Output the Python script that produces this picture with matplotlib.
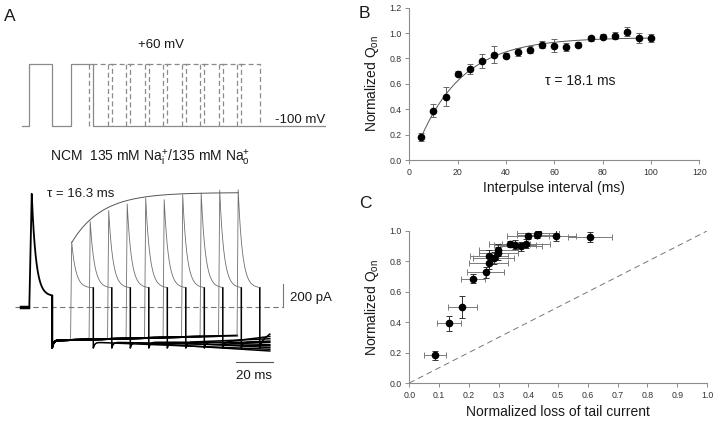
import numpy as np
import matplotlib.pyplot as plt

plt.rcParams['font.family'] = ['Liberation Sans', 'DejaVu Sans']
plt.rcParams['mathtext.fontset'] = 'custom'
plt.rcParams['mathtext.rm'] = 'Liberation Sans'
plt.rcParams['mathtext.it'] = 'Liberation Sans:italic'

# ---- panel B: recovery of Qon vs interpulse interval
interval_B = [5, 10, 15, 20, 25, 30, 35, 40, 45, 50,
              55, 60, 65, 70, 75, 80, 85, 90, 95, 100]
qon_B = [0.18, 0.39, 0.50, 0.68, 0.72, 0.78, 0.83, 0.82, 0.85, 0.87,
         0.91, 0.90, 0.89, 0.91, 0.96, 0.97, 0.98, 1.01, 0.96, 0.96]
qon_B_err = [0.03, 0.05, 0.075, 0.02, 0.04, 0.055, 0.065, 0.02, 0.03, 0.03,
             0.03, 0.05, 0.03, 0.02, 0.02, 0.02, 0.03, 0.035, 0.04, 0.03]
tau_B = 18.1
amp_B = 0.965
t0_B = 1.2

# ---- panel C: Qon vs loss of tail current
loss_C = [0.086, 0.133, 0.178, 0.213, 0.256, 0.267, 0.268, 0.283, 0.299, 0.299,
          0.337, 0.356, 0.375, 0.391, 0.398, 0.428, 0.433, 0.494, 0.607]
qon_C = [0.183, 0.393, 0.50, 0.686, 0.729, 0.788, 0.838, 0.825, 0.852, 0.873,
         0.915, 0.91, 0.90, 0.915, 0.969, 0.976, 0.987, 0.969, 0.96]
loss_C_err = [0.037, 0.039, 0.048, 0.04, 0.062, 0.065, 0.065, 0.07, 0.065, 0.065,
              0.07, 0.07, 0.07, 0.08, 0.07, 0.065, 0.07, 0.065, 0.075]
qon_C_err = [0.03, 0.05, 0.075, 0.03, 0.035, 0.04, 0.04, 0.04, 0.04, 0.04,
             0.02, 0.03, 0.03, 0.03, 0.02, 0.02, 0.02, 0.035, 0.035]

# ---- panel A: two-pulse protocol and currents (ms, mV, pA)
pulse_width = 12.3
intervals_A = [10, 20, 30, 40, 50, 60, 70, 80, 90, 100]
v_hold, v_step = -100, 60
peak_first = 980
peaks_second = [563, 741, 835, 893, 944, 930, 973, 987, 1013, 1015]
plateau_first = 95
plateau_second = 165
tail_start = -285
tail_drift_end = -235
tail2_start = -300
tail2_end = [-360, -330, -375, -300, -345, -270, -320, -250, -290, -230]
tau_A = 16.3
fit_start, fit_top = 555, 985
t_end = 130

W_PX, H_PX = 720, 423
fig = plt.figure(figsize=(7.2, 4.23), dpi=100)


def fx(px):
    return px / W_PX


def fy(py):
    return 1 - py / H_PX


# pixel mapping of panel A: t=0 at x=29.3 px, 1.85 px per ms
ms_px, t0_px = 1.85, 29.3
xlim_A = (-t0_px / ms_px, (360 - t0_px) / ms_px)

ax_v = fig.add_axes([0, fy(140), 0.5, 90 / H_PX])
ax_v.set_xlim(*xlim_A)
ax_v.set_ylim(-136.3, 97.1)
ax_v.axis('off')

proto_col = '#8a8a8a'
for k, d in enumerate(intervals_A):
    s = pulse_width + d
    tt = [-4.1, 0, 0, pulse_width, pulse_width, s, s, s + pulse_width, s + pulse_width, 159.8]
    vv = [v_hold, v_hold, v_step, v_step, v_hold, v_hold, v_step, v_step, v_hold, v_hold]
    if k == 0:
        ax_v.plot(tt, vv, color=proto_col, lw=0.9)
    else:
        ax_v.plot(tt[5:9], vv[5:9], color=proto_col, lw=0.9, ls=(0, (4, 2.5)))

ax_i = fig.add_axes([0, fy(400), 0.5, 225 / H_PX])
ax_i.set_xlim(*xlim_A)
ax_i.set_ylim(-795.7, 1135.6)
ax_i.axis('off')


def on_kin(tt, start, peak, plateau, t_rise):
    rise = start + (peak - start) * np.clip(tt / t_rise, 0, 1)
    dec = plateau + (peak - plateau) * np.exp(-np.clip(tt - t_rise, 0, None) / 2.3)
    return np.where(tt < t_rise, rise, dec)


def tail1(tt):
    return (tail_start + (tail_drift_end - tail_start) * (tt - pulse_width) / (t_end - pulse_width)
            - 60 * np.exp(-(tt - pulse_width) / 0.8))


ax_i.plot([-7.7, 137], [0, 0], color='#777777', lw=0.8, ls=(0, (5, 3)))

# baseline before the pulse and first on-transient (common to every sweep)
ax_i.plot([-4.3, -0.6], [0, 0], color='black', lw=2.5)
t1 = np.linspace(0, pulse_width, 300)
ax_i.plot(np.r_[-0.6, t1], np.r_[0, on_kin(t1, 0, peak_first, plateau_first, 1.3)],
          color='black', lw=1.3)

for k, d in enumerate(intervals_A):
    s = pulse_width + d
    ta = np.linspace(pulse_width, s, 200)
    ax_i.plot(np.r_[pulse_width, ta], np.r_[plateau_first, tail1(ta)], color='black', lw=1.4)
    tb = np.linspace(0, pulse_width, 200)
    ib = on_kin(tb, tail1(s), peaks_second[k], plateau_second, 0.6)
    ax_i.plot(s + tb, ib, color='#6e6e6e', lw=0.6)
    e = s + pulse_width
    tc = np.linspace(e, t_end, 200)
    ic = (tail2_start + (tail2_end[k] - tail2_start) * (tc - e) / (t_end - e + 1e-9)
          - 50 * np.exp(-(tc - e) / 0.8))
    ax_i.plot(np.r_[e, tc], np.r_[plateau_second, ic], color='black', lw=1.1)

# exponential envelope of the second-pulse peaks
t_first_peak = pulse_width + intervals_A[0] + 0.6
t_last_peak = pulse_width + intervals_A[-1] + 0.6
tf = np.linspace(t_first_peak, t_last_peak, 300)
ax_i.plot(tf, fit_top - (fit_top - fit_start) * np.exp(-(tf - t_first_peak) / tau_A),
          color='#555555', lw=0.7)

# scale bars
ax_i.plot([111.6, 131.6], [-472, -472], color='#555555', lw=0.8)
ax_i.plot([137, 137], [0, 200], color='#777777', lw=0.8)

txt = '#1a1a1a'
fig.text(fx(3.5), fy(20.7), 'A', fontsize=12.5, color=txt, va='baseline')
fig.text(fx(160.7), fy(48.3), '+60 mV', fontsize=9.5, color=txt, ha='center', va='baseline')
fig.text(fx(325), fy(123.3), '-100 mV', fontsize=9.5, color=txt, ha='right', va='baseline')
fig.text(fx(50), fy(161.7),
         r'NCM  135 mM Na$^{+}_{\mathrm{i}}$/135 mM Na$^{+}_{\mathrm{o}}$',
         fontsize=10, color=txt, va='baseline')
fig.text(fx(46.7), fy(197.3), '\u03c4 = 16.3 ms', fontsize=9.5, color=txt, va='baseline')
fig.text(fx(290), fy(301), '200 pA', fontsize=9.5, color=txt, va='baseline')
fig.text(fx(254), fy(379), '20 ms', fontsize=9.5, color=txt, ha='center', va='baseline')


def style(ax):
    for side in ['top', 'right']:
        ax.spines[side].set_visible(False)
    for side in ['left', 'bottom']:
        ax.spines[side].set_color('#8c8c8c')
        ax.spines[side].set_linewidth(0.8)
    ax.tick_params(direction='out', length=3, width=0.7, color='#8c8c8c',
                   labelsize=6.3, labelcolor='#333333', pad=2.5)


# ---- panel B
ax_b = fig.add_axes([fx(409.3), fy(160), 290 / W_PX, 152.3 / H_PX])
xb = np.linspace(interval_B[0], interval_B[-1], 200)
ax_b.plot(xb, amp_B * (1 - np.exp(-(xb - t0_B) / tau_B)), color='#555555', lw=0.7, zorder=1)
ax_b.errorbar(interval_B, qon_B, yerr=qon_B_err, fmt='o', color='black', ms=4.5,
              ecolor='#666666', elinewidth=0.7, capsize=2.2, capthick=0.7, zorder=3)
ax_b.set_xlim(0, 120)
ax_b.set_ylim(0, 1.2)
ax_b.set_xticks(np.arange(0, 121, 20))
ax_b.set_yticks(np.arange(0, 1.21, 0.2))
ax_b.set_yticklabels([f'{v:.1f}' for v in np.arange(0, 1.21, 0.2)])
style(ax_b)
ax_b.set_xlabel('Interpulse interval (ms)', fontsize=10, color=txt, labelpad=3)
ax_b.set_ylabel(r'Normalized Q$_{\mathrm{on}}$', fontsize=10, color=txt, labelpad=6)
ax_b.text(56, 0.62, '\u03c4 = 18.1 ms', fontsize=10, color=txt, va='center')

# ---- panel C
ax_c = fig.add_axes([fx(409.3), fy(383), 297.7 / W_PX, 152 / H_PX])
ax_c.plot([0, 1], [0, 1], color='#777777', lw=0.7, ls=(0, (6, 4)), zorder=1)
ax_c.errorbar(loss_C, qon_C, xerr=loss_C_err, fmt='none', ecolor='#7a7a7a',
              elinewidth=0.7, capsize=2.2, capthick=0.7, zorder=2)
ax_c.errorbar(loss_C, qon_C, yerr=qon_C_err, fmt='o', color='black', ms=4.5,
              ecolor='#333333', elinewidth=0.7, capsize=2.2, capthick=0.7, zorder=3)
ax_c.set_xlim(0, 1.0)
ax_c.set_ylim(0, 1.0)
ax_c.set_xticks(np.arange(0, 1.01, 0.1))
ax_c.set_xticklabels([f'{v:.1f}' for v in np.arange(0, 1.01, 0.1)])
ax_c.set_yticks(np.arange(0, 1.01, 0.2))
ax_c.set_yticklabels([f'{v:.1f}' for v in np.arange(0, 1.01, 0.2)])
style(ax_c)
ax_c.set_xlabel('Normalized loss of tail current', fontsize=10, color=txt, labelpad=4)
ax_c.set_ylabel(r'Normalized Q$_{\mathrm{on}}$', fontsize=10, color=txt, labelpad=6)

fig.text(fx(359), fy(18.3), 'B', fontsize=12.5, color=txt, va='baseline')
fig.text(fx(359), fy(208.3), 'C', fontsize=12.5, color=txt, va='baseline')

fig.savefig('out.png', dpi=100, facecolor='white')
